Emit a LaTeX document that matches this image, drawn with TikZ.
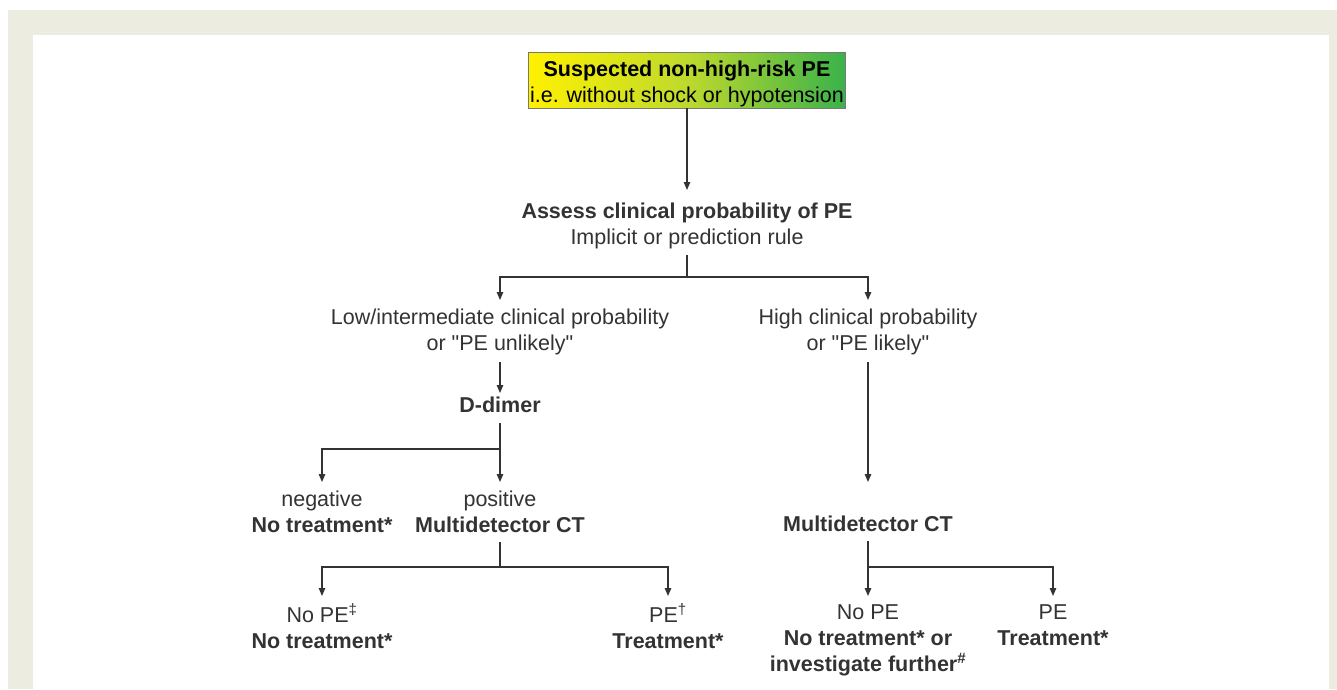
\documentclass[tikz,border=0pt]{standalone}
\usepackage{fontspec}
\setmainfont{Liberation Sans}[Ligatures=TeXOff]
\usetikzlibrary{arrows.meta}
\definecolor{beige}{RGB}{237,236,224}
\definecolor{ink}{RGB}{51,51,51}
\definecolor{pey}{RGB}{255,241,0}
\definecolor{peg}{RGB}{58,178,74}
\definecolor{pem}{RGB}{190,217,45}
\definecolor{boxline}{RGB}{120,120,120}
\newcommand{\tstr}{\rule{0pt}{15.5pt}}
\newcommand{\bstr}{\rule[-4.6pt]{0pt}{4.6pt}}
\begin{document}
\begin{tikzpicture}[x=1pt,y=-1pt,
  txt/.style={inner sep=0pt, align=center, anchor=north, text=ink, font=\fontsize{21.5}{26}\selectfont},
  conn/.style={draw=ink, line width=1.2pt},
  arr/.style={conn, -{Triangle[length=8pt,width=6.5pt]}},
  topbox/.style={draw=boxline, line width=0.9pt, left color=pey, right color=peg, middle color=pem, minimum width=317pt, minimum height=56pt, inner sep=0pt}
]
\useasboundingbox (0,0) rectangle (1337,689);
\fill[white] (0,0) rectangle (1337,689);
\fill[beige] (8,10) rectangle (1337,689);
\fill[white] (33,35) rectangle (1329,689);

% top box
\node[topbox] (top) at (687,80) {};
\node[txt, text=black] (toptext) at (687,60.5) {\tstr\textbf{Suspected non-high-risk PE}\\i.e. without shock or hypotension};

% assess
\node[txt] (assess) at (687,202.5) {\tstr\textbf{Assess clinical probability of PE}\\Implicit or prediction rule\bstr};
\draw[arr, shorten >=12.5pt] (top.south) -- (assess.north);

% second level
\node[txt] (low) at (500,308.5) {\tstr Low/intermediate clinical probability\\or "PE unlikely"\bstr};
\node[txt] (high) at (868,308.5) {\tstr High clinical probability\\or "PE likely"\bstr};
\coordinate (b1) at (687,277);
\draw[conn, shorten <=6pt] (assess.south) -- (b1);
\draw[arr, shorten >=8.5pt] (b1) -| (low.north);
\draw[arr, shorten >=8.5pt] (b1) -| (high.north);

% D-dimer
\node[txt] (ddimer) at (500,396.5) {\tstr\textbf{D-dimer}\bstr};
\draw[arr, shorten <=7pt, shorten >=3.5pt] (low.south) -- (ddimer.north);

\node[txt] (neg) at (322,490.5) {\tstr negative\\\textbf{No treatment*}};
\node[txt] (pos) at (500,490.5) {\tstr positive\\\textbf{Multidetector CT}\bstr};
\coordinate (b2) at (500,449);
\draw[conn, shorten <=6pt] (ddimer.south) -- (b2);
\draw[arr, shorten >=8.5pt] (b2) -| (neg.north);
\draw[arr, shorten >=8.5pt] (b2) -- (pos.north);

% left CT results
\node[txt] (nope1) at (322,603.5) {\tstr No PE\textsuperscript{‡}\\\textbf{No treatment*}};
\node[txt] (pe1) at (668,603.5) {\tstr PE\textsuperscript{†}\\\textbf{Treatment*}};
\coordinate (b3) at (500,567);
\draw[conn, shorten <=5pt] (pos.south) -- (b3);
\draw[arr, shorten >=7.5pt] (b3) -| (nope1.north);
\draw[arr, shorten >=7.5pt] (b3) -| (pe1.north);

% right branch
\node[txt] (ctR) at (868,515.5) {\tstr\textbf{Multidetector CT}\bstr};
\draw[arr, shorten <=7pt, shorten >=33.5pt] (high.south) -- (ctR.north);

\node[txt] (nope2) at (868,603.5) {\tstr No PE\\\textbf{No treatment* or}\\\textbf{investigate further\textsuperscript{\#}}};
\node[txt] (pe2) at (1053,603.5) {\tstr PE\\\textbf{Treatment*}};
\coordinate (b4) at (868,567);
\draw[arr, shorten <=5pt, shorten >=7.5pt] (ctR.south) -- (nope2.north);
\draw[arr, shorten >=7.5pt] (b4) -| (pe2.north);
\end{tikzpicture}
\end{document}
